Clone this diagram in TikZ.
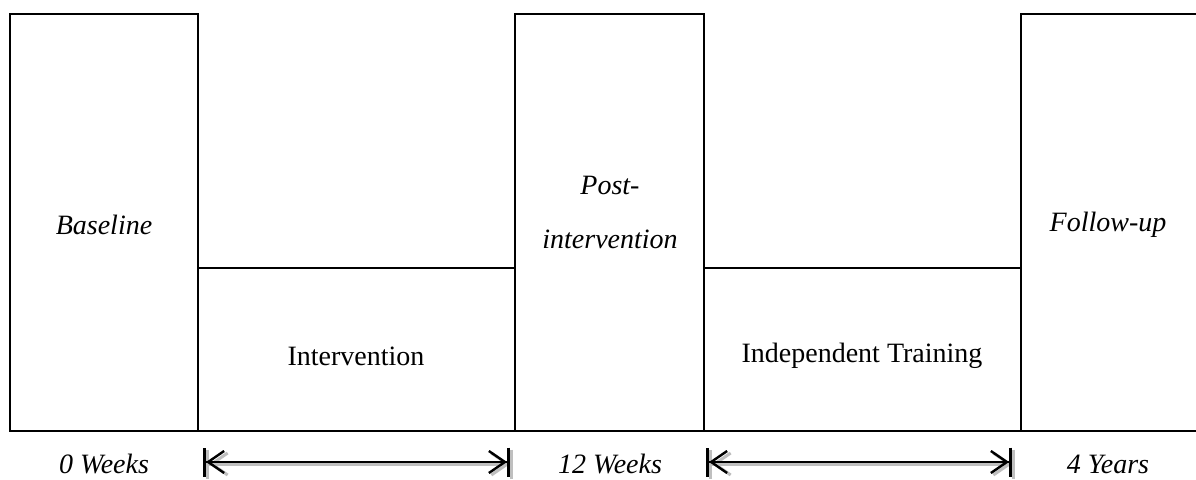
\documentclass[tikz,border=0pt]{standalone}
\usepackage{fontspec}
\setmainfont{Liberation Serif}
\usetikzlibrary{arrows.meta}
\begin{document}
\begin{tikzpicture}[x=1pt,y=-1pt,
  box/.style={draw=black,line width=2pt,fill=none},
  lbl/.style={font=\fontsize{28}{34}\selectfont,align=center,inner sep=0pt},
  ilbl/.style={lbl,font=\fontsize{28}{34}\selectfont\itshape},
  span/.style={line width=2.2pt,
    {Bar[width=29pt,line width=3pt,sep=0pt]Straight Barb[length=16pt,width=22pt,line width=2.4pt,sep=0pt]}-{Straight Barb[length=16pt,width=22pt,line width=2.4pt,sep=0pt]Bar[width=29pt,line width=3pt,sep=0pt]}},
  shadowspan/.style={line width=3pt,draw=black!25,
    {Bar[width=29pt,line width=3pt,sep=0pt]Straight Barb[length=16pt,width=22pt,line width=3pt,sep=0pt]}-{Straight Barb[length=16pt,width=22pt,line width=3pt,sep=0pt]Bar[width=29pt,line width=3pt,sep=0pt]}}
]
\useasboundingbox (0,0) rectangle (1196,479);
\clip (0,0) rectangle (1196,479);
\fill[white] (0,0) rectangle (1196,479);
% boxes
\draw[box] (10,14) rectangle (198,431);
\draw[box] (198,268) rectangle (515,431);
\draw[box] (515,14) rectangle (704,431);
\draw[box] (704,268) rectangle (1021,431);
\draw[box] (1021,14) rectangle (1220,431);
% texts
\node[ilbl] (base) at (104,225) {Baseline};
\node[lbl] (interv) at (356,356) {Intervention};
\node[ilbl,font=\fontsize{28}{54}\selectfont\itshape] (post) at (610,212) {Post-\\intervention};
\node[lbl] (indep) at (862,356) {Independent Training};
\node[ilbl] (follow) at (1108,225) {Follow-up};
\node[ilbl] (w0) at (104,464) {0 Weeks};
\node[ilbl] (w12) at (610,464) {12 Weeks};
\node[ilbl] (y4) at (1108,464) {4 Years};
% spans
\coordinate (a1) at (203,462);
\coordinate (a2) at (510,462);
\coordinate (b1) at (706,462);
\coordinate (b2) at (1012,462);
\draw[shadowspan] ([xshift=3pt,yshift=-2pt]a1) -- ([xshift=3pt,yshift=-2pt]a2);
\draw[shadowspan] ([xshift=3pt,yshift=-2pt]b1) -- ([xshift=3pt,yshift=-2pt]b2);
\draw[span] (a1) -- (a2);
\draw[span] (b1) -- (b2);
\end{tikzpicture}
\end{document}
